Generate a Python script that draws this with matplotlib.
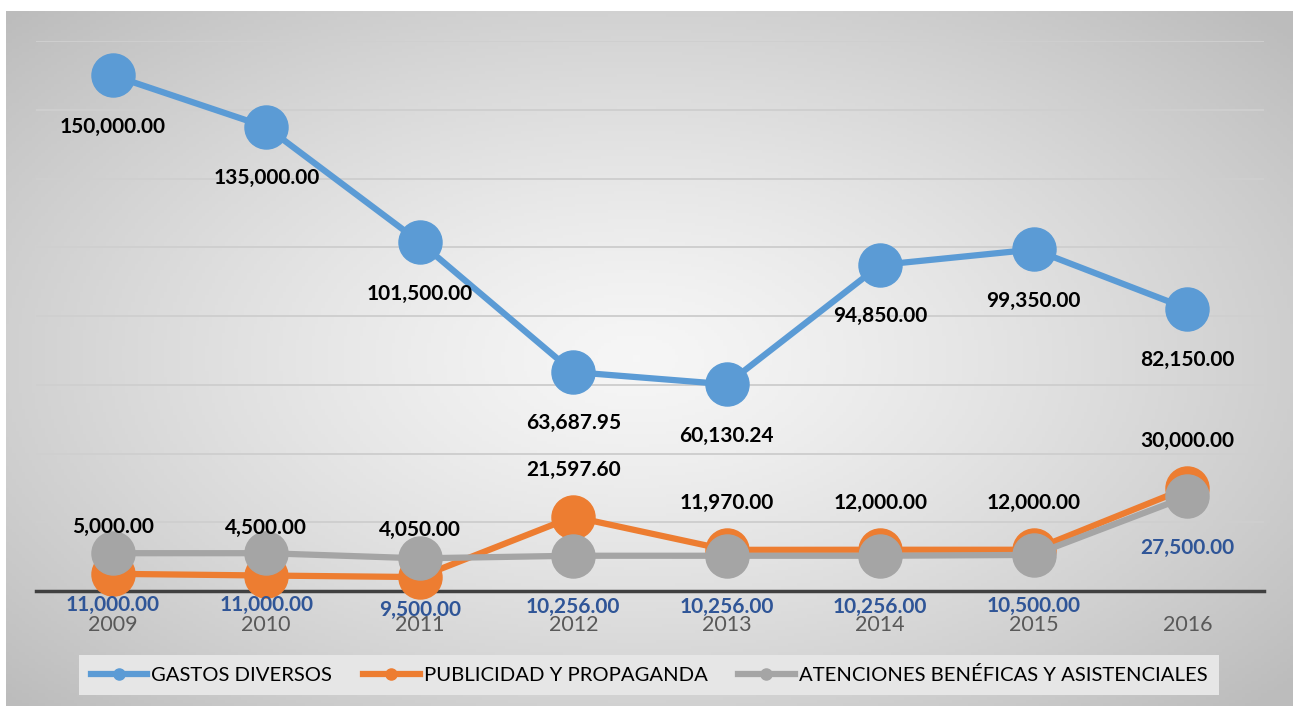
import numpy as np
import matplotlib.pyplot as plt
from matplotlib.lines import Line2D

# Data
years = ['2009', '2010', '2011', '2012', '2013', '2014', '2015', '2016']
gastos_diversos = [150000.00, 135000.00, 101500.00, 63687.95, 60130.24, 94850.00, 99350.00, 82150.00]
publicidad = [5000.00, 4500.00, 4050.00, 21597.60, 11970.00, 12000.00, 12000.00, 30000.00]
atenciones = [11000.00, 11000.00, 9500.00, 10256.00, 10256.00, 10256.00, 10500.00, 27500.00]

series_names = ['GASTOS DIVERSOS', 'PUBLICIDAD Y PROPAGANDA', 'ATENCIONES BENÉFICAS Y ASISTENCIALES']
colors = ['#5B9BD5', '#ED7D31', '#A5A5A5']

plt.rcParams['font.family'] = ['Lato', 'DejaVu Sans']

W, H = 1298, 706
fig = plt.figure(figsize=(W / 100, H / 100), dpi=100)
fig.patch.set_facecolor('white')

# Background panel with radial gradient
px0, px1, py0, py1 = 6, 1293, 0, 695  # pixel box (y from bottom)
bg = fig.add_axes([px0 / W, py0 / H, (px1 - px0) / W, (py1 - py0) / H], zorder=0)
gx, gy = np.meshgrid(np.linspace(-1, 1, 400), np.linspace(-1, 1, 220))
r = np.sqrt(((gx + 0.02) / 1.0) ** 2 + ((gy - 0.0) / 1.05) ** 2)
r = np.clip(r / 1.35, 0, 1)
shade = 0.965 - (0.965 - 0.74) * r ** 1.3
bg.imshow(np.dstack([shade, shade, shade]), aspect='auto', extent=[0, 1, 0, 1])
bg.axis('off')

ax = fig.add_axes([36 / W, (H - 591) / H, 1228 / W, 550 / H], zorder=1)
ax.patch.set_alpha(0)
x = np.arange(len(years))

ax.set_xlim(-0.5, len(years) - 0.5)
ax.set_ylim(0, 160000)
ax.set_yticks(np.arange(20000, 160001, 20000))
ax.yaxis.grid(True, color='#cfcfcf', linewidth=1.4)
ax.set_axisbelow(True)
ax.tick_params(axis='y', left=False, labelleft=False)
ax.tick_params(axis='x', length=0, pad=17, labelsize=15.5, labelcolor='#595959')
ax.set_xticks(x)
ax.set_xticklabels(years)
for s in ['top', 'left', 'right']:
    ax.spines[s].set_visible(False)
ax.spines['bottom'].set_color('#404040')
ax.spines['bottom'].set_linewidth(2.5)

all_series = [gastos_diversos, publicidad, atenciones]
for vals, c, z in zip(all_series, colors, [5, 3, 4]):
    ax.plot(x, vals, color=c, linewidth=4.5, marker='o', markersize=31,
            zorder=z, clip_on=False)

# Data labels
label_specs = [(gastos_diversos, -37, 'black'), (publicidad, 34, 'black'), (atenciones, -37, '#2F5597')]
for vals, off, col in label_specs:
    for xi, v in zip(x, vals):
        ax.annotate(f'{v:,.2f}', (xi, v), xytext=(0, off), textcoords='offset points',
                    ha='center', va='center', fontsize=15, fontweight='bold',
                    color=col, zorder=6)

handles = [Line2D([0], [0], color=c, linewidth=4.5, marker='o', markersize=8) for c in colors]
leg = fig.legend(handles, series_names, loc='center', bbox_to_anchor=(649 / W, (H - 675) / H),
                 ncol=3, frameon=True, fontsize=14.6, handlelength=2.8, handletextpad=0.2,
                 columnspacing=1.5, borderpad=0.55, fancybox=False)
leg.get_frame().set_facecolor('#e6e6e6')
leg.get_frame().set_edgecolor('none')
leg.get_frame().set_alpha(1)

fig.savefig('out.png', dpi=100)
